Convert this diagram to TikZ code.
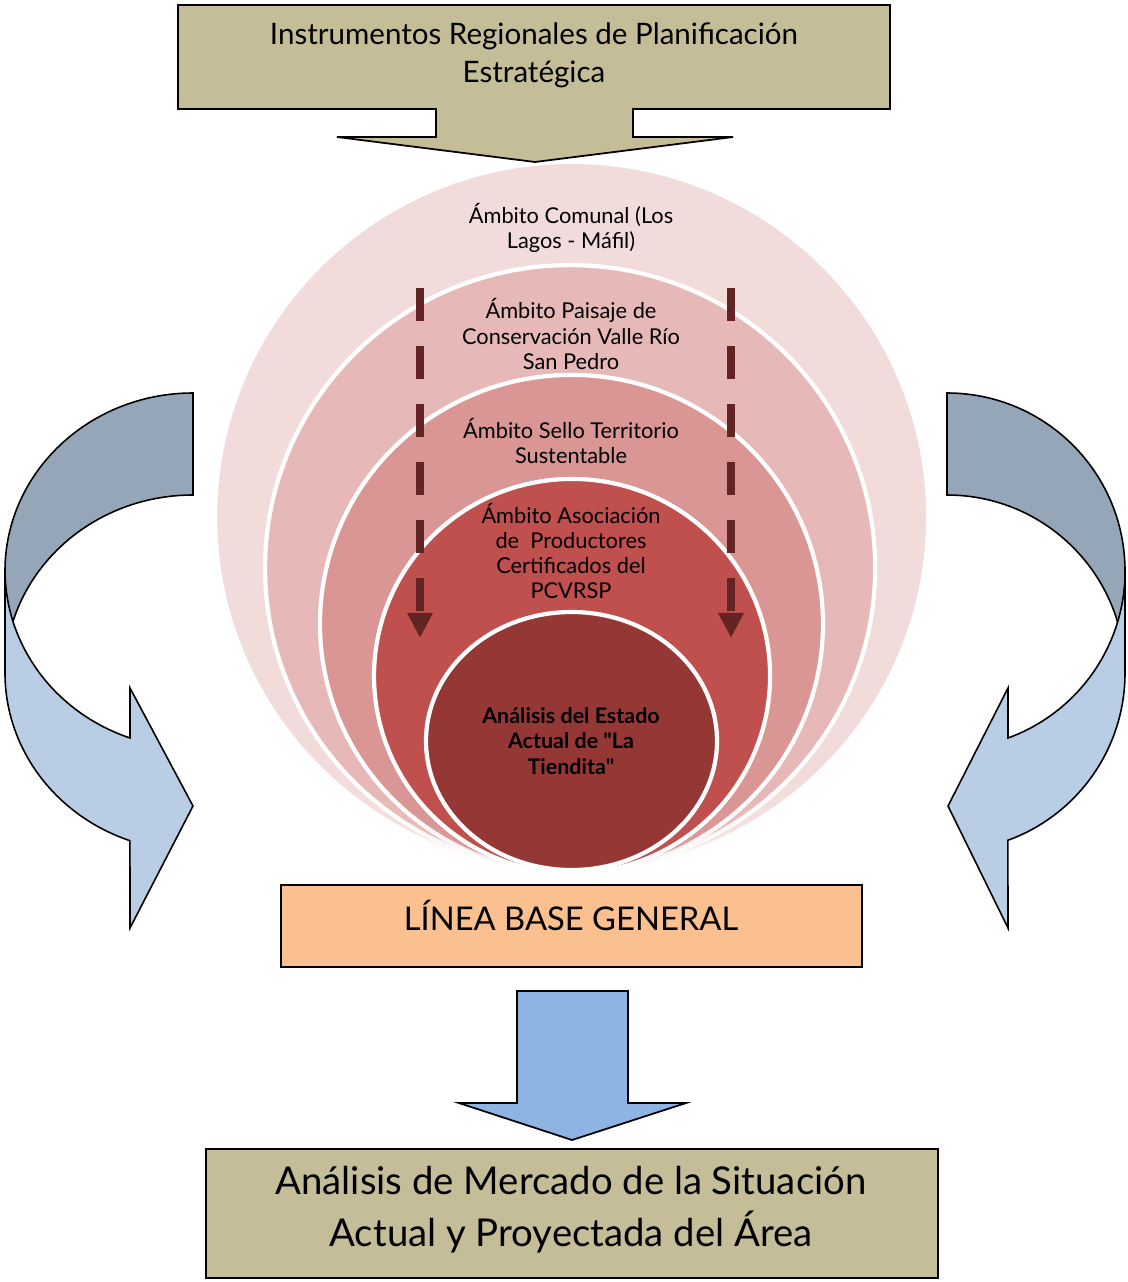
\documentclass[tikz,border=0pt]{standalone}
\usepackage{fontspec}
\setmainfont{Lato}
\usetikzlibrary{arrows.meta,fadings}

\definecolor{tanbox}{HTML}{C4BD97}
\definecolor{peachbox}{HTML}{FAC090}
\definecolor{bluearrow}{HTML}{8EB4E3}
\definecolor{slatearrow}{HTML}{95A6B8}
\definecolor{paleblue}{HTML}{B9CDE5}
\definecolor{ringA}{HTML}{F2DCDB}
\definecolor{ringB}{HTML}{E6B9B8}
\definecolor{ringC}{HTML}{D99694}
\definecolor{ringD}{HTML}{C0504D}
\definecolor{ringE}{HTML}{953735}
\definecolor{dashred}{HTML}{632523}

% fadings for the lower part of the rings
\pgfdeclareverticalshading{lowshade}{100bp}{color(0bp)=(pgftransparent!100); color(12bp)=(pgftransparent!65); color(32bp)=(pgftransparent!0); color(100bp)=(pgftransparent!0)}
\pgfdeclarefading{lowfade}{\pgfuseshading{lowshade}}
\pgfdeclareverticalshading{softshade}{100bp}{color(0bp)=(pgftransparent!100); color(10bp)=(pgftransparent!0); color(100bp)=(pgftransparent!0)}
\pgfdeclarefading{softfade}{\pgfuseshading{softshade}}

\tikzset{
  boxline/.style={draw=black,line width=0.5pt},
  ring/.style={fill=#1,draw=white,line width=1.2pt},
  ringtext/.style={align=center,inner sep=0pt,font=\fontsize{6.2}{7.2}\selectfont},
  coretext/.style={align=center,inner sep=0pt,font=\fontsize{6.1}{7.2}\selectfont\bfseries},
  dashflow/.style={dashred,line width=0.08cm,dash pattern=on 0.33cm off 0.25cm,
    -{Triangle[width=0.24cm,length=0.25cm]}},
  curvearrow/.style={draw=black,line width=0.45pt,line join=miter}
}

\begin{document}
\begin{tikzpicture}[x=0.01cm,y=0.01cm]
\useasboundingbox (0,0) rectangle (1127,-1282);

% nested rings
\path[ring=ringA,path fading=lowfade] (571.5,-517) ellipse [x radius=356.5,y radius=355];
\path[ring=ringB,path fading=lowfade] (570,-568) ellipse [x radius=305,y radius=303];
\path[ring=ringC,path fading=lowfade] (571.5,-624) ellipse [x radius=251.5,y radius=249];
\path[ring=ringD,path fading=softfade] (572,-676) ellipse [x radius=198,y radius=197];
\path[ring=ringE] (571.5,-741) ellipse [x radius=145.5,y radius=129];

\node[ringtext] (comunal) at (571,-228) {Ámbito Comunal (Los\\Lagos - Máfil)};
\node[ringtext] (paisaje) at (571,-334) {Ámbito Paisaje de\\Conservación Valle Río\\San Pedro};
\node[ringtext] (sello) at (571,-441) {Ámbito Sello Territorio\\Sustentable};
\node[ringtext] (asociacion) at (571,-551) {Ámbito Asociación\\de~~Productores\\Certificados del\\PCVRSP};
\node[coretext] (tiendita) at (571,-741) {Análisis del Estado\\Actual de \textquotedbl La\\Tiendita\textquotedbl};

% dashed arrows through the rings
\coordinate (leftstart) at (420,-288);
\coordinate (leftend) at (420,-638);
\coordinate (rightstart) at (731,-288);
\coordinate (rightend) at (731,-638);
\draw[dashflow] (leftstart) -- (leftend);
\draw[dashflow] (rightstart) -- (rightend);

% top callout
\path[boxline,fill=tanbox] (178,-5) -- (890,-5) -- (890,-109) -- (633,-109) -- (633,-137)
  -- (733,-137) -- (535,-162) -- (337,-137) -- (436,-137) -- (436,-109) -- (178,-109) -- cycle;
\node[align=center,font=\fontsize{8.4}{10.8}\selectfont] (planif) at (534,-55)
  {Instrumentos Regionales de Planificación\\Estratégica};

% left curved arrow
\path[curvearrow,fill=slatearrow] (193,-393) arc[start angle=90,end angle=180,x radius=188,y radius=178]
  -- (5,-673) arc[start angle=180,end angle=90,x radius=188,y radius=178] -- cycle;
\path[curvearrow,fill=paleblue] (5,-571) -- (5,-673)
  arc[start angle=180,end angle=250.4,x radius=188,y radius=178]
  -- (130,-928) -- (193,-806) -- (130,-688) -- (130,-738)
  arc[start angle=250.4,end angle=180,x radius=188,y radius=178] -- cycle;

% right curved arrow
\path[curvearrow,fill=slatearrow] (947,-393) arc[start angle=90,end angle=0,x radius=178,y radius=178]
  -- (1125,-673) arc[start angle=0,end angle=90,x radius=178,y radius=178] -- cycle;
\path[curvearrow,fill=paleblue] (1125,-571) -- (1125,-673)
  arc[start angle=0,end angle=-70,x radius=178,y radius=178]
  -- (1008,-928) -- (948,-806) -- (1008,-688) -- (1008,-738)
  arc[start angle=-70,end angle=0,x radius=178,y radius=178] -- cycle;

% base box
\path[boxline,fill=peachbox] (281,-885) rectangle (862,-967);
\node[font=\fontsize{9.3}{11}\selectfont] (linea) at (571,-915) {LÍNEA BASE GENERAL};

% down arrow
\path[boxline,fill=bluearrow] (517,-991) -- (628,-991) -- (628,-1103) -- (686,-1103)
  -- (572,-1140) -- (459,-1103) -- (517,-1103) -- cycle;

% bottom box
\path[boxline,fill=tanbox] (206,-1149) rectangle (938,-1278);
\node[align=center,font=\fontsize{10.9}{14.8}\selectfont] (mercado) at (571,-1210)
  {Análisis de Mercado de la Situación\\Actual y Proyectada del Área};
\end{tikzpicture}
\end{document}
